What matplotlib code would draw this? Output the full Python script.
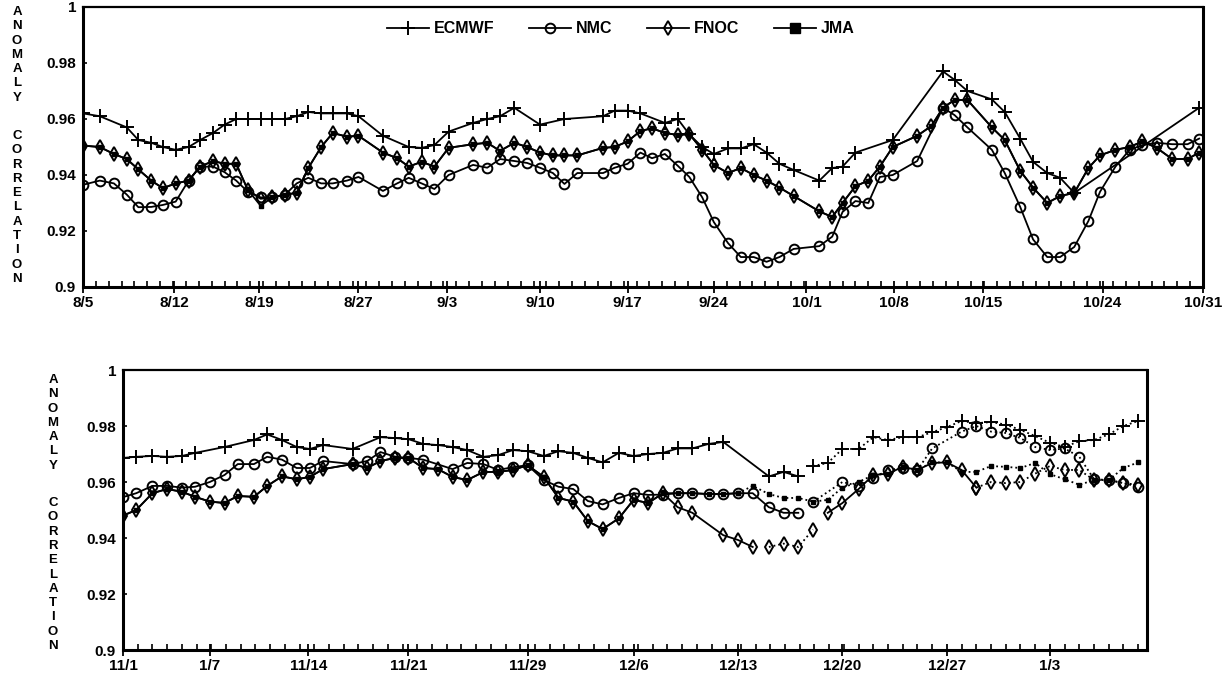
#!/usr/bin/env python3
# anomaly correlation, two periods (aug-oct, nov-jan)

import numpy as np
import matplotlib
matplotlib.use('Agg')
import matplotlib.pyplot as plt
from matplotlib.lines import Line2D

plt.rcParams['font.family'] = ['Liberation Sans', 'DejaVu Sans']
plt.rcParams['font.weight'] = 'bold'

nan = np.nan

# ----------------------------
# top panel: 8/5 .. 10/31 (x in day-tick units)
# ----------------------------
top_x = [0, 1.3, 2.4, 3.4, 4.3, 5.3, 6.2, 7.2, 8.2, 9.1,
         10.1, 11, 11.9, 12.8, 13.8, 14.7, 15.7, 16.6, 17.5, 18.5,
         19.4, 20.5, 21.4, 23.3, 24.4, 25.3, 26.3, 27.3, 28.4, 30.3,
         31.4, 32.4, 33.5, 34.5, 35.5, 36.5, 37.4, 38.4, 40.4, 41.3,
         42.3, 43.3, 44.2, 45.2, 46.2, 47.1, 48.1, 49, 50.1, 51.1,
         52.1, 53.1, 54.1, 55.2, 57.2, 58.2, 59, 60, 61, 61.9,
         62.9, 64.8, 65.9, 66.8, 67.7, 68.7, 70.6, 71.6, 72.8, 73.8,
         74.9, 75.9, 77, 78.1, 79, 80.2, 81.3, 82.3, 83.4, 84.6,
         85.8, 86.7]

ecmwf_top = [.962, .961, nan, .957, .9525, .9515, .950, .949, .950, .9525,
             .955, .958, .960, .960, .960, .960, .960, .961, .9625, .962,
             .962, .962, .961, .954, nan, .950, .9497, .9507, .9555, .9586,
             .960, .961, .964, nan, .958, nan, .960, nan, .961, .963,
             .963, .962, nan, .9586, .960, .9545, .950, .9475, .9495, .9495,
             .951, .948, .944, .9418, .938, .9425, .943, .948, nan, nan,
             .9525, nan, nan, .977, .974, .970, .967, .9625, .953, .9447,
             .9407, .939, .9336, nan, nan, nan, nan, nan, nan, nan,
             nan, .964]

nmc_top = [.9365, .938, .937, .933, .9285, .9286, .9293, .9305, .938, .943,
           .943, .941, .938, .934, .932, .932, .933, .937, .939, .937,
           .937, .938, .9393, .9343, .937, .939, .937, .935, .940, .9436,
           .9426, .9457, .945, .9443, .9426, .9407, .9368, .9407, .9407, .9426,
           .944, .948, .946, .9475, .9433, .9393, .932, .9232, .9157, .9107,
           .9107, .909, .9107, .9136, .9146, .918, .9268, .9307, .930, .9393,
           .940, .945, nan, .964, .9614, .957, .949, .9407, .9286, .917,
           .9107, .9107, .9143, .9236, .934, .943, .949, .9507, .9515, .951,
           .951, .953]

fnoc_top = [.9505, .950, .9475, .9457, .942, .938, .9353, .937, .938, .943,
            .945, .944, .944, .9347, .9315, .932, .933, .9336, .9425, .950,
            .955, .9537, .954, .948, .946, .943, .9447, .943, .9497, .951,
            .9515, .9486, .9515, .950, .948, .947, .947, .947, .9497, .950,
            .952, .9557, .9567, .955, .9543, .9546, .949, .9436, .9407, .9425,
            .940, .938, .9355, .9325, .927, .925, .930, .936, .938, .943,
            .950, .954, .9575, .964, .9668, .9668, .957, .9525, .9415, .9355,
            .930, .9325, .9336, .9425, .947, .949, .950, .952, .9497, .9457,
            .9457, .948]

# JMA sits on the FNOC line in the top panel (filled marks), except at 8/19
jma_top = list(fnoc_top)
jma_top[14] = .929

top_ticks = [0, 7.1, 13.7, 21.4, 28.3, 35.5, 42.3, 49.0, 56.2, 63.0, 69.9, 79.2, 87]
top_labels = ['8/5', '8/12', '8/19', '8/27', '9/3', '9/10', '9/17', '9/24',
              '10/1', '10/8', '10/15', '10/24', '10/31']

# ----------------------------
# bottom panel: 11/1 .. 1/9
# ----------------------------
bot_x = [0, 0.9, 2, 3, 4, 4.9, 5.9, 6.9, 7.8, 8.9,
         9.8, 10.8, 11.8, 12.7, 13.6, 15.6, 16.6, 17.5, 18.5, 19.4,
         20.4, 21.4, 22.4, 23.4, 24.5, 25.5, 26.5, 27.5, 28.6, 29.6,
         30.6, 31.6, 32.6, 33.7, 34.7, 35.7, 36.7, 37.7, 38.7, 39.8,
         40.8, 41.8, 42.8, 43.9, 44.9, 45.9, 46.9, 47.9, 48.9, 50,
         51, 52, 53, 54, 55, 56, 57, 58, 59, 60,
         61, 62, 63, 64, 65, 66, 67, 68, 69]

ecmwf_bot = [.9686, .969, .9693, .969, .9693, .9704, nan, .9725, nan, .975,
             .977, .975, .9725, .9718, .9732, .9718, nan, .976, .9757, .9753,
             .9736, .9732, .9725, .9714, .969, .9696, .9714, .971, .9693, .971,
             .9704, .9686, .967, .9704, .9693, .970, .9704, .972, .972, .9736,
             .9743, nan, nan, .962, .9636, .962, .9657, .9668, .9718, .9718,
             .976, .975, .976, .976, .9778, .9796, .9818, .981, .9814, .9805,
             .9786, .9764, .974, .9725, .9746, .975, .977, .980, .9818]

nmc_bot = [.9546, .956, .9586, .9586, .958, .9583, .960, .9625, .9664, .9664,
           .969, .968, .965, .965, .9675, .9664, .9675, .9707, .969, .9686,
           .968, nan, .9646, .9668, .9664, .9643, .9653, .966, .9607, .9583,
           .9575, .9532, .952, .9543, .956, .9554, .9555, .956, .956, .9557,
           .9557, .956, .956, .951, .949, .949, .9529, nan, .960, .9586,
           .9614, .9643, .965, .9643, .972, nan, .978, .980, .978, .9775,
           .9757, .9725, .9714, .972, .969, .961, .9607, .9596, .9583]

fnoc_bot = [.948, .950, .956, .9575, .9565, .9547, .953, .9525, .955, .9547,
            .9586, .962, .961, .9618, .9646, .9664, .965, .9675, .9686, .9686,
            .965, .9646, .9618, .9607, .9636, .9636, .9643, .966, .9618, .9543,
            .953, .946, .9432, .947, .9536, .9525, .956, .951, .949, nan,
            .941, .9393, .9368, .9368, .938, .9368, .943, .949, .9525, .9575,
            .9625, .963, .9654, .9643, .9668, .967, .9643, .958, .960, .9596,
            .960, .963, .9657, .9643, .9643, .9607, .9607, .9596, .959]

# JMA follows FNOC until early December, then its own (dotted) track
jma_bot = fnoc_bot[:36] + [.956, .956, .956, .9557, .9557, .956, .9586,
                           .9557, .9543, .9543, .953, .9536, .958, .960, .9625,
                           .963, .9654, .9643, .967, .967, .9636, .9636, .9657,
                           .9654, .965, .9668, .9628, .961, .959, .9607, .9607,
                           .965, .967]

bot_ticks = [0, 5.9, 12.6, 19.4, 27.5, 34.7, 41.8, 48.9, 56, 63]
bot_labels = ['11/1', '1/7', '11/14', '11/21', '11/29', '12/6', '12/13',
              '12/20', '12/27', '1/3']

# segments: (start idx, end idx, linestyle)
bot_segments = {
    'ecmwf': [(0, 46, '-'), (46, 69, ':')],
    'nmc':   [(0, 46, '-'), (46, 69, ':')],
    'fnoc':  [(0, 43, '-'), (43, 47, ':'), (47, 58, '-'), (57, 69, ':')],
    'jma':   [(0, 42, '-'), (41, 69, ':')],
}

styles = {
    'ecmwf': dict(marker='+', ms=10, mew=1.4, mfc='black'),
    'nmc':   dict(marker='o', ms=7, mew=1.4, mfc='none'),
    'fnoc':  dict(marker='d', ms=7, mew=1.4, mfc='none'),
    'jma':   dict(marker='s', ms=3.5, mew=1, mfc='black'),
}
order = ['jma', 'fnoc', 'nmc', 'ecmwf']


def draw(ax, x, y, name, segments=None):
    x = np.asarray(x, float)
    y = np.asarray(y, float)
    if segments is None:
        segments = [(0, len(x), '-')]
    for a, b, ls in segments:
        xs, ys = x[a:b], y[a:b]
        ok = ~np.isnan(ys)
        ax.plot(xs[ok], ys[ok], color='black', lw=1.3, ls=ls, mec='black',
                **styles[name])


def setup(ax, xmax, ticks, labels):
    ax.set_ylim(0.9, 1.0)
    ax.set_xlim(0, xmax)
    ax.set_yticks([0.9, 0.92, 0.94, 0.96, 0.98, 1.0])
    ax.set_yticklabels(['0.9', '0.92', '0.94', '0.96', '0.98', '1'])
    ax.set_xticks(ticks)
    ax.set_xticklabels(labels)
    ax.set_xticks(np.arange(0, int(xmax) + 1, 1), minor=True)
    ax.tick_params(axis='x', which='major', direction='inout', length=9,
                   width=1.3, labelsize=11, pad=2)
    ax.tick_params(axis='x', which='minor', direction='in', length=4, width=1.2)
    ax.tick_params(axis='y', which='major', direction='in', length=3, width=1.2,
                   labelsize=11, pad=5)
    for s in ['left', 'bottom', 'right']:
        ax.spines[s].set_linewidth(2.2)
    ax.spines['top'].set_linewidth(1.6)
    for lab in ax.get_xticklabels() + ax.get_yticklabels():
        lab.set_fontweight('bold')


def ylabel_letters(fig, xpx, y_anomaly, y_correlation, step=14.3):
    for word, y0 in (('ANOMALY', y_anomaly), ('CORRELATION', y_correlation)):
        for i, ch in enumerate(word):
            ypx = y0 + i * step
            fig.text(xpx / 1231, 1 - ypx / 679, ch, ha='center', va='center',
                     fontsize=9.5, fontweight='bold')


fig = plt.figure(figsize=(12.31, 6.79), dpi=100)

# ----------------------------
# top panel
# ----------------------------
ax1 = fig.add_axes([83 / 1231, 1 - 287 / 679, 1120 / 1231, 280 / 679])
setup(ax1, 87, top_ticks, top_labels)
for name, vals in zip(order, [jma_top, fnoc_top, nmc_top, ecmwf_top]):
    draw(ax1, top_x, vals, name)

handles = [Line2D([], [], color='black', lw=1.3, mec='black', **styles[n])
           for n in ['ecmwf', 'nmc', 'fnoc']]
handles.append(Line2D([], [], color='black', lw=1.3, marker='s', ms=7,
                      mfc='black', mec='black'))
leg = ax1.legend(handles, ['ECMWF', 'NMC', 'FNOC', 'JMA'], ncol=4,
                 loc='upper center', bbox_to_anchor=(0.48, 1.0), frameon=False,
                 handlelength=2.6, columnspacing=2.2, handletextpad=0.3,
                 prop={'weight': 'bold', 'size': 11.5})

# ----------------------------
# bottom panel
# ----------------------------
ax2 = fig.add_axes([123 / 1231, 1 - 650 / 679, 1024 / 1231, 280 / 679])
setup(ax2, 69.6, bot_ticks, bot_labels)
for name, vals in zip(order, [jma_bot, fnoc_bot, nmc_bot, ecmwf_bot]):
    draw(ax2, bot_x, vals, name, bot_segments[name])

ylabel_letters(fig, 17, 12, 136)
ylabel_letters(fig, 53, 380, 503)

fig.savefig('out.png', dpi=100)
